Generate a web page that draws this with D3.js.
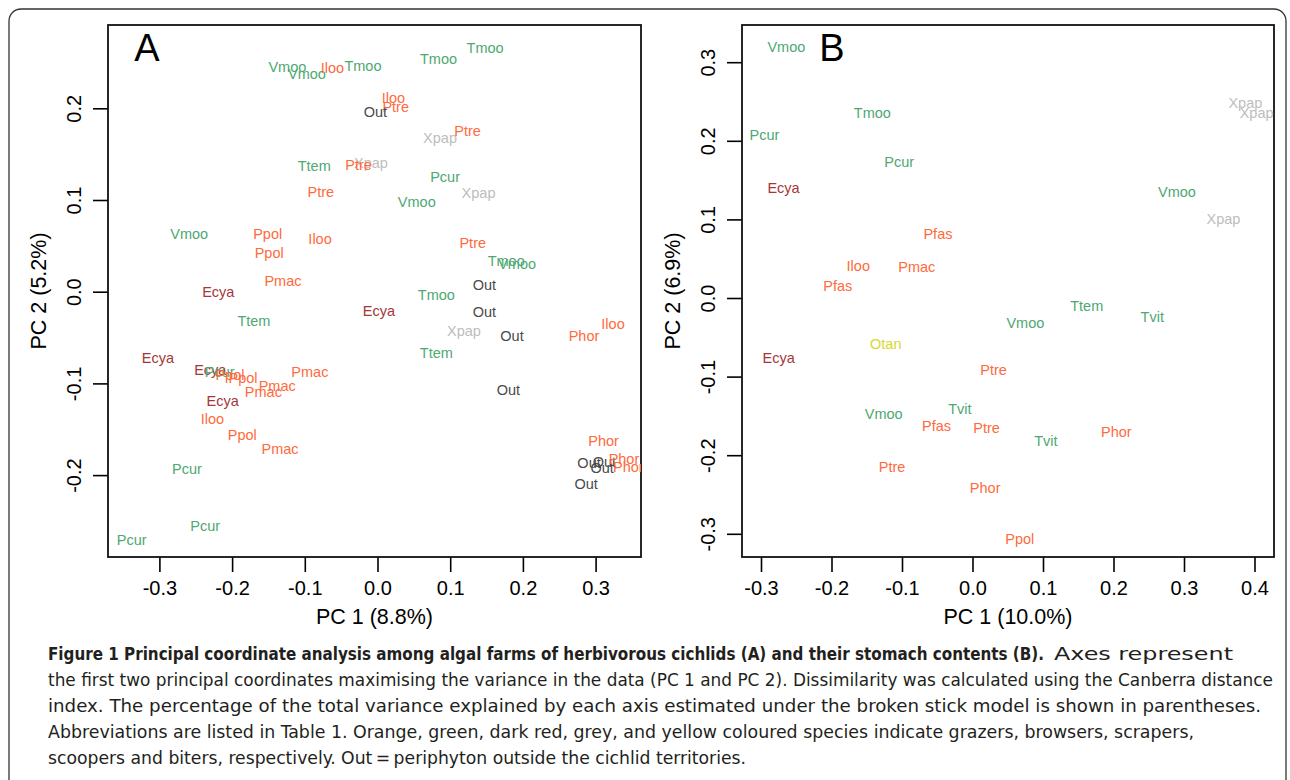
<!DOCTYPE html>
<html><head><meta charset="utf-8">
<script src="https://cdn.jsdelivr.net/npm/d3@7"></script>
<style>
html,body{margin:0;padding:0;background:#fff;}
svg{display:block;}
</style></head>
<body>
<svg id="fig" width="1290" height="780"></svg>
<script>
// ---------------- Data ----------------
// Panel A: algal farms
const aLabels = ["Vmoo","Vmoo","Iloo","Tmoo","Tmoo","Tmoo","Iloo","Ptre","Out","Xpap","Ptre","Ttem","Xpap","Ptre","Pcur","Xpap","Ptre","Vmoo","Vmoo","Ppol","Ppol","Iloo","Ptre","Tmoo","Vmoo","Pmac","Ecya","Out","Tmoo","Ecya","Out","Ttem","Xpap","Out","Phor","Iloo","Ttem","Ecya","Ecya","Pcur","Ppol","Ppol","Pmac","Pmac","Pmac","Out","Ecya","Iloo","Ppol","Pmac","Phor","Out","Out","Out","Phor","Phor","Out","Pcur","Pcur","Pcur"];
const aX = [-0.124,-0.097,-0.062,-0.020,0.084,0.148,0.022,0.025,-0.003,0.086,0.124,-0.087,-0.009,-0.026,0.093,0.139,-0.078,0.054,-0.259,-0.151,-0.149,-0.079,0.131,0.177,0.192,-0.130,-0.219,0.147,0.081,0.002,0.147,-0.170,0.119,0.185,0.284,0.324,0.081,-0.302,-0.230,-0.217,-0.203,-0.185,-0.093,-0.138,-0.157,0.180,-0.213,-0.227,-0.186,-0.134,0.311,0.291,0.312,0.309,0.339,0.345,0.287,-0.262,-0.237,-0.338];
const aY = [0.245,0.237,0.244,0.246,0.254,0.266,0.211,0.201,0.196,0.168,0.175,0.137,0.140,0.138,0.125,0.108,0.109,0.098,0.063,0.063,0.042,0.058,0.053,0.034,0.030,0.012,0.000,0.007,-0.004,-0.021,-0.022,-0.032,-0.043,-0.048,-0.048,-0.035,-0.067,-0.072,-0.085,-0.088,-0.091,-0.094,-0.088,-0.103,-0.109,-0.107,-0.119,-0.139,-0.156,-0.172,-0.163,-0.187,-0.186,-0.192,-0.182,-0.191,-0.210,-0.193,-0.255,-0.271];
const aGroup = ["browser","browser","grazer","browser","browser","browser","grazer","grazer","out","scooper","grazer","browser","scooper","grazer","browser","scooper","grazer","browser","browser","grazer","grazer","grazer","grazer","browser","browser","grazer","scraper","out","browser","scraper","out","browser","scooper","out","grazer","grazer","browser","scraper","scraper","browser","grazer","grazer","grazer","grazer","grazer","out","scraper","grazer","grazer","grazer","grazer","out","out","out","grazer","grazer","out","browser","browser","browser"];

// Panel B: stomach contents
const bLabels = ["Vmoo","Tmoo","Pcur","Pcur","Ecya","Xpap","Xpap","Vmoo","Xpap","Pfas","Iloo","Pmac","Pfas","Ttem","Tvit","Vmoo","Otan","Ecya","Ptre","Vmoo","Tvit","Pfas","Ptre","Phor","Tvit","Ptre","Phor","Ppol"];
const bX = [-0.264,-0.142,-0.295,-0.104,-0.268,0.387,0.403,0.290,0.356,-0.049,-0.162,-0.079,-0.191,0.162,0.255,0.075,-0.123,-0.275,0.030,-0.126,-0.018,-0.051,0.020,0.204,0.104,-0.114,0.018,0.067];
const bY = [0.319,0.236,0.207,0.173,0.140,0.248,0.236,0.135,0.100,0.081,0.041,0.040,0.015,-0.010,-0.024,-0.032,-0.059,-0.076,-0.092,-0.147,-0.141,-0.163,-0.165,-0.170,-0.182,-0.215,-0.242,-0.307];
const bGroup = ["browser","browser","browser","browser","scraper","scooper","scooper","browser","scooper","grazer","grazer","grazer","grazer","browser","browser","browser","biter","scraper","grazer","browser","browser","grazer","grazer","grazer","browser","grazer","grazer","grazer"];

// Tick values
const aXTicks = [-0.3,-0.2,-0.1,0.0,0.1,0.2,0.3];
const aYTicks = [-0.2,-0.1,0.0,0.1,0.2];
const bXTicks = [-0.3,-0.2,-0.1,0.0,0.1,0.2,0.3,0.4];
const bYTicks = [-0.3,-0.2,-0.1,0.0,0.1,0.2,0.3];

const groupColor = {grazer:"#FF6A3D", browser:"#4EA872", scraper:"#A43838", scooper:"#BDBDBD", out:"#4A4A4A", biter:"#D8D82E"};

const captionBold = "Figure 1 Principal coordinate analysis among algal farms of herbivorous cichlids (A) and their stomach contents (B).";
const captionLines = [
  "Axes represent",
  "the first two principal coordinates maximising the variance in the data (PC 1 and PC 2). Dissimilarity was calculated using the Canberra distance",
  "index. The percentage of the total variance explained by each axis estimated under the broken stick model is shown in parentheses.",
  "Abbreviations are listed in Table 1. Orange, green, dark red, grey, and yellow coloured species indicate grazers, browsers, scrapers,",
  "scoopers and biters, respectively. Out\u2009=\u2009periphyton outside the cichlid territories."
];

// ---------------- Drawing ----------------
const svg = d3.select("#fig");
const FONT = "'Liberation Sans', Arial, Helvetica, sans-serif";
const fmt = d => d.toFixed(1);

// outer frame
svg.append("rect").attr("x",9).attr("y",9).attr("width",1277).attr("height",800)
  .attr("rx",12).attr("ry",12).attr("fill","none").attr("stroke","#333").attr("stroke-width",1.3);

function panel(cfg){
  const {id, left, right, top, bottom, xDom, yDom, xTicks, yTicks, labels, xs, ys, groups, letter, letterX, xTitle, yTitle} = cfg;
  const x = d3.scaleLinear().domain(xDom).range([left,right]);
  const y = d3.scaleLinear().domain(yDom).range([bottom,top]);
  const g = svg.append("g");

  g.append("clipPath").attr("id","clip"+id).append("rect")
    .attr("x",left).attr("y",top).attr("width",right-left).attr("height",bottom-top);

  // x axis
  const xa = g.append("g").attr("transform",`translate(0,${bottom})`)
    .call(d3.axisBottom(x).tickValues(xTicks).tickSize(15).tickPadding(9).tickFormat(fmt));
  xa.select(".domain").remove();
  xa.selectAll("line").attr("stroke","#000").attr("stroke-width",1.6);
  xa.selectAll("text").attr("font-family",FONT).attr("font-size",20).attr("fill","#000");

  // y axis
  const ya = g.append("g").attr("transform",`translate(${left},0)`)
    .call(d3.axisLeft(y).tickValues(yTicks).tickSize(15).tickFormat(fmt));
  ya.select(".domain").remove();
  ya.selectAll("line").attr("stroke","#000").attr("stroke-width",1.6);
  ya.selectAll("text")
    .attr("font-family",FONT).attr("font-size",20).attr("fill","#000")
    .attr("x",null).attr("dy",null)
    .attr("text-anchor","middle")
    .attr("transform",`translate(${-34},0) rotate(-90)`)
    .attr("dy","0.35em");

  // box
  g.append("rect").attr("x",left).attr("y",top).attr("width",right-left).attr("height",bottom-top)
    .attr("fill","none").attr("stroke","#111").attr("stroke-width",1.8);

  // labels
  const idx = d3.range(labels.length);
  g.append("g").attr("clip-path",`url(#clip${id})`)
    .selectAll("text").data(idx).join("text")
    .attr("x",i=>x(xs[i])).attr("y",i=>y(ys[i])).attr("dy","0.35em")
    .attr("text-anchor","middle").attr("font-family",FONT).attr("font-size",14.5)
    .attr("fill",i=>groupColor[groups[i]]).text(i=>labels[i]);

  // panel letter
  g.append("text").attr("x",letterX).attr("y",48).attr("dy","0.35em").attr("text-anchor","middle")
    .attr("font-family",FONT).attr("font-size",38).attr("fill","#000").text(letter);

  // titles
  g.append("text").attr("x",(left+right)/2).attr("y",616).attr("dy","0.35em").attr("text-anchor","middle")
    .attr("font-family",FONT).attr("font-size",21.5).attr("fill","#000").text(xTitle);
  g.append("text").attr("transform",`translate(${left-70},${(top+bottom)/2}) rotate(-90)`)
    .attr("dy","0.35em").attr("text-anchor","middle")
    .attr("font-family",FONT).attr("font-size",21.5).attr("fill","#000").text(yTitle);
}

panel({id:"A", left:108, right:641, top:25, bottom:557,
  xDom:[(108-377.5)/727,(641-377.5)/727], yDom:[-(557-291.7)/917,(291.7-25)/917],
  xTicks:aXTicks, yTicks:aYTicks, labels:aLabels, xs:aX, ys:aY, groups:aGroup,
  letter:"A", letterX:147, xTitle:"PC 1 (8.8%)", yTitle:"PC 2 (5.2%)"});

panel({id:"B", left:742, right:1274, top:25, bottom:557,
  xDom:[(742-972.5)/705,(1274-972.5)/705], yDom:[-(557-298)/786,(298-25)/786],
  xTicks:bXTicks, yTicks:bYTicks, labels:bLabels, xs:bX, ys:bY, groups:bGroup,
  letter:"B", letterX:832, xTitle:"PC 1 (10.0%)", yTitle:"PC 2 (6.9%)"});

// caption
const CAPF = "'Liberation Sans Narrow', 'DejaVu Sans Condensed', 'Liberation Sans', sans-serif";
const cap = svg.append("g").attr("font-family",CAPF).attr("font-size",18).attr("fill","#231f20");
cap.append("text").attr("x",48).attr("y",660).attr("font-weight","bold")
  .attr("textLength",996).attr("lengthAdjust","spacingAndGlyphs").text(captionBold);
const lineEnds = [1233,1273,1261,1194,746];
const lineStarts = [1054,48,48,48,48];
captionLines.forEach((t,i)=>{
  cap.append("text").attr("x",lineStarts[i]).attr("y",660+i*26)
    .attr("textLength",lineEnds[i]-lineStarts[i]).attr("lengthAdjust","spacingAndGlyphs").text(t);
});
</script>
</body></html>
